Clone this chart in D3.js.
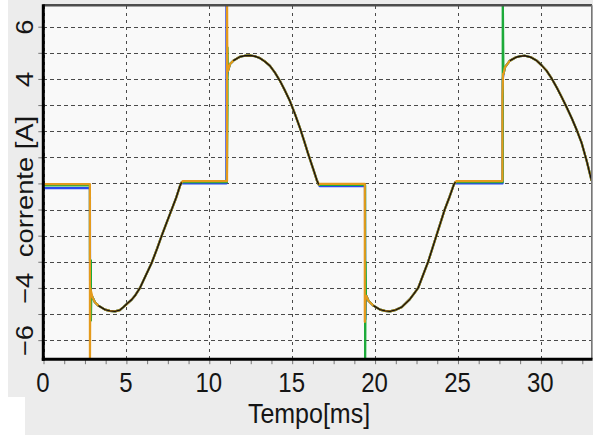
<!DOCTYPE html>
<html><head><meta charset="utf-8">
<script src="https://cdn.jsdelivr.net/npm/d3@7"></script>
<style>body{margin:0;background:#fff}svg{display:block}text{font-family:"Liberation Sans",Arial,sans-serif;fill:#151515}</style>
</head><body>
<svg id="c" width="593" height="435"></svg>
<script>
// ---- tick labels / axes ----
const xTickValues = [0, 5, 10, 15, 20, 25, 30];
const xMinorTicks = [0,1.25,2.5,3.75,5,6.25,7.5,8.75,10,11.25,12.5,13.75,15,16.25,17.5,18.75,20,21.25,22.5,23.75,25,26.25,27.5,28.75,30,31.25,32.5];
const yGridValues = [-6,-5,-4,-3,-2,-1,0,1,2,3,4,5,6];
const yTickLabels = [6, 4, -4, -6];
const xTitle = "Tempo[ms]";
const yTitle = "corrente [A]";

// ---- curve halves: [time ms, current A] ----
const negHalf1 = [[2.95,-4.35],[3.1,-4.55],[3.31,-4.68],[3.71,-4.83],[4.0,-4.88],[4.31,-4.9],[4.6,-4.85],[4.81,-4.74],[5.05,-4.6],[5.32,-4.45],[5.55,-4.27],[5.82,-4.0],[6.15,-3.55],[6.52,-3.05],[6.85,-2.5],[7.13,-2.0],[7.43,-1.5],[7.73,-1.0],[8.0,-0.55],[8.23,-0.1],[8.33,0.04]];
const posHalf1 = [[11.12,4.3],[11.25,4.57],[11.45,4.7],[11.85,4.85],[12.15,4.89],[12.45,4.9],[12.75,4.87],[13.05,4.8],[13.35,4.67],[13.66,4.5],[13.95,4.25],[14.26,3.93],[14.56,3.56],[14.86,3.16],[15.16,2.67],[15.46,2.14],[15.72,1.63],[15.97,1.12],[16.27,0.55],[16.5,0.1],[16.6,-0.04]];
const negHalf2 = [[19.47,-4.3],[19.6,-4.49],[19.9,-4.68],[20.3,-4.83],[20.6,-4.88],[20.9,-4.9],[21.25,-4.84],[21.6,-4.74],[22.1,-4.43],[22.35,-4.22],[22.6,-4.0],[22.9,-3.5],[23.2,-3.0],[23.45,-2.5],[23.7,-2.0],[23.95,-1.5],[24.2,-1.0],[24.5,-0.5],[24.75,-0.05],[24.85,0.05]];
const posHalf2 = [[27.75,4.2],[27.83,4.44],[28.13,4.7],[28.5,4.83],[28.75,4.87],[29.04,4.89],[29.4,4.83],[29.75,4.7],[30.05,4.52],[30.35,4.31],[30.65,4.02],[30.96,3.67],[31.26,3.3],[31.56,2.91],[31.86,2.5],[32.16,2.05],[32.46,1.55],[32.77,0.85],[33.06,0.1]];

// ---- per-trace flats and switching spikes ----
const seriesBlue = [[0,-0.18],[2.8,-0.18],[2.81,-4.2],...negHalf1,[8.4,0.0],[11.03,0.0],[11.03,7.5],[11.06,4.0],...posHalf1,[16.65,-0.1],[19.39,-0.1],[19.41,-5.2],[19.44,-4.5],...negHalf2,[24.9,0.0],[27.69,0.0],[27.7,4.0],...posHalf2];
const seriesGreen = [[0,-0.08],[2.8,-0.08],[2.8,-2.95],[2.86,-2.95],[2.86,-5.25],[2.88,-4.4],...negHalf1,[8.4,0.05],[11.06,0.05],[11.1,2.9],[11.1,5.2],[11.12,4.5],...posHalf1,[16.65,-0.06],[19.4,-0.06],[19.4,-7.5],[19.43,-3.0],[19.45,-4.4],...negHalf2,[24.9,0.05],[27.7,0.05],[27.7,7.5],[27.74,4.4],...posHalf2];
const seriesOrange = [[0,-0.03],[2.8,-0.03],[2.8,-7.5],[2.82,-4.0],...negHalf1,[8.4,0.09],[11.07,0.09],[11.07,7.5],[11.09,4.3],...posHalf1,[16.65,-0.02],[19.38,-0.02],[19.38,-5.3],[19.42,-4.3],...negHalf2,[24.9,0.09],[27.68,0.09],[27.68,3.3],[27.72,4.2],...posHalf2];
const seriesBlack = [...negHalf1.slice(2),null,...posHalf1.slice(2),null,...negHalf2.slice(2),null,...posHalf2.slice(2)];

const traces = [
  {data: seriesBlue, color: "#2a48f0", width: 2.2},
  {data: seriesGreen, color: "#1daa3a", width: 2.2},
  {data: seriesOrange, color: "#e49a1c", width: 2.2},
  {data: seriesBlack, color: "#141414", width: 1.4}
];

const svg = d3.select("#c");
const L = 43.3, R = 591, T = 5.3, B = 359.2;
const x = d3.scaleLinear().domain([0, 33]).range([43.5, 590.6]);
const y = d3.scaleLinear().domain([-6.73, 6.82]).range([B, T]);

// backgrounds
svg.append("rect").attr("x",8).attr("y",0).attr("width",585).attr("height",397).attr("fill","#ececec");
svg.append("rect").attr("x",25).attr("y",397).attr("width",568).attr("height",38).attr("fill","#ececec");
svg.append("rect").attr("x",L).attr("y",T).attr("width",R-L).attr("height",B-T).attr("fill","#f9f9f9");

// grid
const gx = svg.append("g").attr("transform",`translate(0,${B})`)
  .call(d3.axisBottom(x).tickValues(xTickValues).tickSize(-(B-T)).tickFormat(""));
gx.select(".domain").remove();
gx.selectAll("line").attr("stroke","#4a4a4a").attr("stroke-dasharray","3,4").attr("shape-rendering","crispEdges");
const gy = svg.append("g").attr("transform",`translate(${L},0)`)
  .call(d3.axisLeft(y).tickValues(yGridValues).tickSize(-(R-L)).tickFormat(""));
gy.select(".domain").remove();
gy.selectAll("line").attr("stroke","#4a4a4a").attr("stroke-dasharray","4,3").attr("shape-rendering","crispEdges");

// small tick marks
const ym = svg.append("g").attr("transform",`translate(${L-1},0)`)
  .call(d3.axisLeft(y).tickValues(yGridValues).tickSize(4).tickFormat(""));
ym.select(".domain").remove();
ym.selectAll("line").attr("stroke","#777");
const xm = svg.append("g").attr("transform",`translate(0,${B+1})`)
  .call(d3.axisBottom(x).tickValues(xMinorTicks).tickSize(4).tickFormat(""));
xm.select(".domain").remove();
xm.selectAll("line").attr("stroke","#777");

// traces
svg.append("clipPath").attr("id","clip").append("rect")
  .attr("x",L).attr("y",T).attr("width",R-L).attr("height",B-T);
const line = d3.line().defined(d => d !== null).x(d => x(d[0])).y(d => y(d[1]));
const tg = svg.append("g").attr("clip-path","url(#clip)");
traces.forEach(s => {
  tg.append("path").attr("d", line(s.data)).attr("fill","none")
    .attr("stroke", s.color).attr("stroke-width", s.width).attr("stroke-linejoin","round");
});

// frame
svg.append("line").attr("x1",L).attr("x2",R+1).attr("y1",T).attr("y2",T).attr("stroke","#4d4d4d").attr("stroke-width",2.4);
svg.append("line").attr("x1",R+0.8).attr("x2",R+0.8).attr("y1",T).attr("y2",B).attr("stroke","#777").attr("stroke-width",1.6);
svg.append("line").attr("x1",L).attr("x2",L).attr("y1",T-1).attr("y2",B+1.5).attr("stroke","#000").attr("stroke-width",3);
svg.append("line").attr("x1",L-1.5).attr("x2",R+1.5).attr("y1",B).attr("y2",B).attr("stroke","#000").attr("stroke-width",3);

// tick labels
const xl = svg.append("g").attr("transform",`translate(0,${B})`)
  .call(d3.axisBottom(x).tickValues(xTickValues).tickSize(0).tickFormat(d3.format("d")));
xl.select(".domain").remove();
xl.selectAll("text").attr("y",null).attr("dy",null).attr("fill","#151515")
  .attr("font-size",24).attr("font-family","'Liberation Sans',Arial,sans-serif")
  .attr("text-anchor","middle").attr("transform","translate(-1,33) scale(1,1.14)");

const yl = svg.append("g").attr("transform",`translate(${L},0)`)
  .call(d3.axisLeft(y).tickValues(yTickLabels).tickSize(0).tickFormat(d3.format("d")));
yl.select(".domain").remove();
yl.selectAll("text").attr("x",null).attr("dy",null).attr("fill","#151515")
  .attr("font-size",24).attr("font-family","'Liberation Sans',Arial,sans-serif")
  .attr("text-anchor","middle").attr("transform","translate(-10,0) scale(1,1.14) rotate(-90)");

// titles
svg.append("text").text(xTitle).attr("font-size",25).attr("text-anchor","middle")
  .attr("transform","translate(309,423) scale(1,1.14)");
svg.append("text").text(yTitle).attr("font-size",24).attr("text-anchor","middle")
  .attr("transform","translate(33,186.5) scale(1,1.14) rotate(-90)");
</script>
</body></html>
